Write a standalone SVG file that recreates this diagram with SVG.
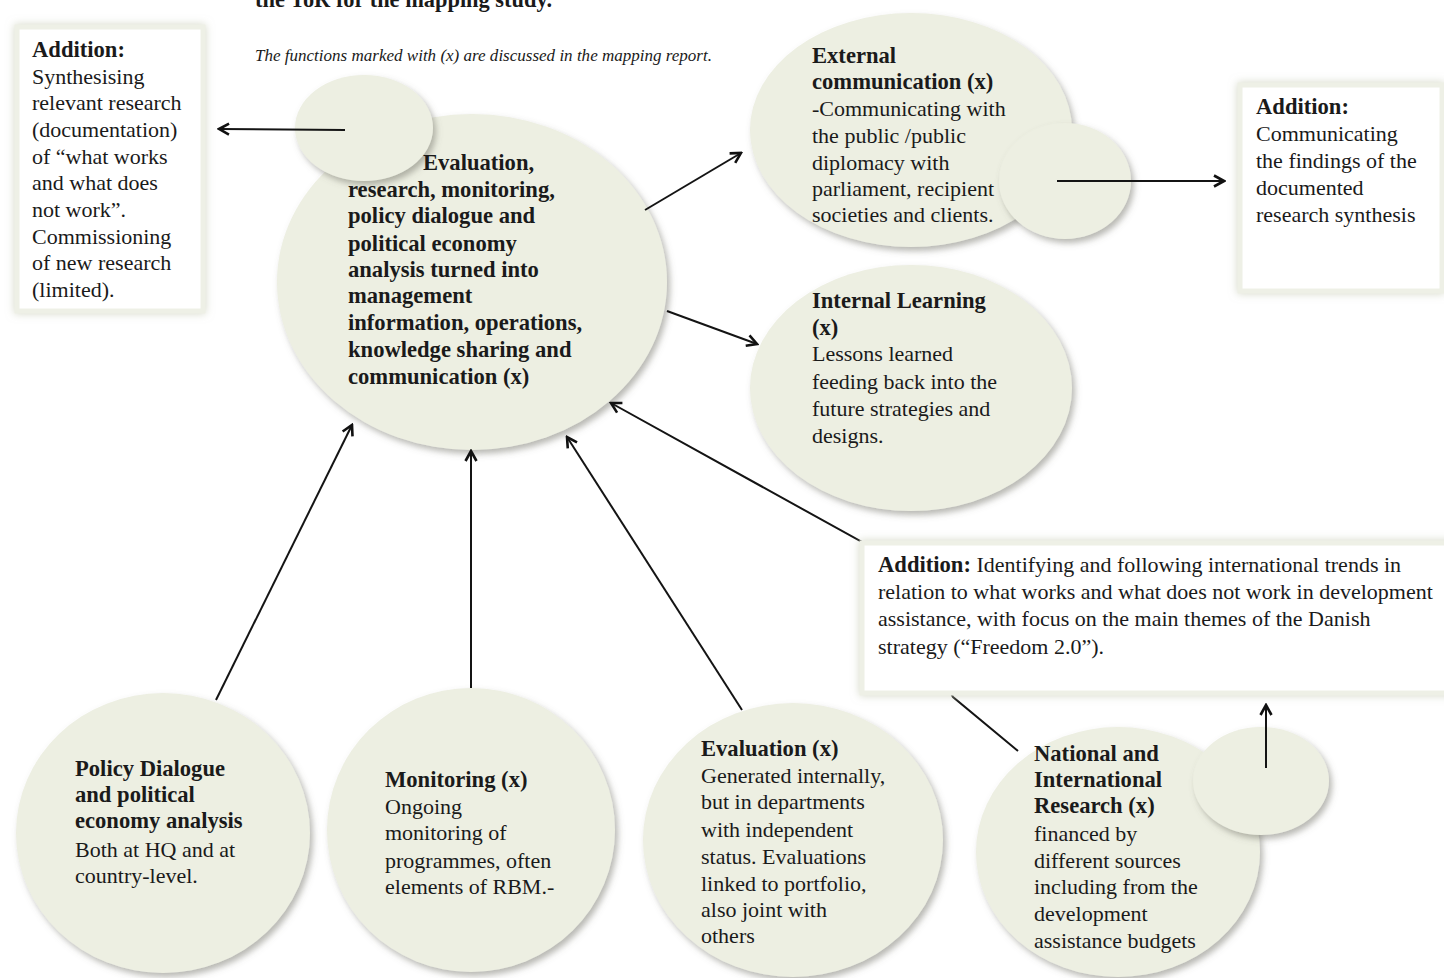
<svg xmlns="http://www.w3.org/2000/svg" width="1444" height="978" viewBox="0 0 1444 978">
  <defs>
    <filter id="shadow" x="-10%" y="-10%" width="125%" height="125%">
      <feDropShadow dx="3" dy="4" stdDeviation="3" flood-color="#6f7066" flood-opacity="0.5"/>
    </filter>
    <filter id="glow" x="-10%" y="-10%" width="120%" height="120%">
      <feDropShadow dx="0" dy="0" stdDeviation="4" flood-color="#c8cdb8" flood-opacity="0.8"/>
    </filter>
    <marker id="arrow" viewBox="0 0 14 14" markerWidth="14" markerHeight="14" refX="12" refY="7" orient="auto" markerUnits="userSpaceOnUse">
      <path d="M2,1.5 L12,7 L2,12.5" fill="none" stroke="#111" stroke-width="2.6" stroke-linejoin="miter"/>
    </marker>
  </defs>
  <style>
    .bubble { fill: #edefe2; filter: url(#shadow); }
    .card { fill: #ffffff; stroke: #eef0e6; stroke-width: 5; filter: url(#glow); }
    .t { font-family: "Liberation Serif", "Times New Roman", serif; font-size: 22px; fill: #1a1a1a; }
    .b { font-weight: bold; font-size: 22.6px; }
    .note { font-family: "Liberation Serif", "Times New Roman", serif; font-size: 17.5px; font-style: italic; fill: #1a1a1a; }
    .conn line, .conn polyline { stroke: #141414; stroke-width: 2; fill: none; }
    .arr { marker-end: url(#arrow); }
  </style>

  <rect width="1444" height="978" fill="#ffffff"/>

  <!-- heading fragment and note -->
  <text class="t b" x="255" y="7" textLength="297" lengthAdjust="spacingAndGlyphs">the ToR for the mapping study.</text>
  <text class="note" x="255" y="61" textLength="457" lengthAdjust="spacingAndGlyphs">The functions marked with (x) are discussed in the mapping report.</text>

  <!-- left addition card -->
  <g id="addition-synthesis">
    <rect class="card" x="17" y="27" width="186" height="284"/>
    <text class="t">
      <tspan class="b" x="32" y="57">Addition:</tspan>
      <tspan x="32" y="84">Synthesising</tspan>
      <tspan x="32" y="110">relevant research</tspan>
      <tspan x="32" y="137">(documentation)</tspan>
      <tspan x="32" y="164">of “what works</tspan>
      <tspan x="32" y="190">and what does</tspan>
      <tspan x="32" y="217">not work”.</tspan>
      <tspan x="32" y="244">Commissioning</tspan>
      <tspan x="32" y="270">of new research</tspan>
      <tspan x="32" y="297">(limited).</tspan>
    </text>
  </g>

  <!-- right addition card -->
  <g id="addition-communicating">
    <rect class="card" x="1240" y="85" width="202" height="206"/>
    <text class="t">
      <tspan class="b" x="1256" y="114">Addition:</tspan>
      <tspan x="1256" y="141">Communicating</tspan>
      <tspan x="1256" y="168">the findings of the</tspan>
      <tspan x="1256" y="195">documented</tspan>
      <tspan x="1256" y="222">research synthesis</tspan>
    </text>
  </g>

  <!-- central bubble -->
  <g id="central">
    <ellipse class="bubble" cx="472" cy="282" rx="195" ry="168"/>
    <ellipse class="bubble" cx="364" cy="128" rx="69" ry="53"/>
    <text class="t b">
      <tspan x="423" y="170">Evaluation,</tspan>
      <tspan x="348" y="197">research, monitoring,</tspan>
      <tspan x="348" y="223">policy dialogue and</tspan>
      <tspan x="348" y="251">political economy</tspan>
      <tspan x="348" y="277">analysis turned into</tspan>
      <tspan x="348" y="303">management</tspan>
      <tspan x="348" y="330">information, operations,</tspan>
      <tspan x="348" y="357">knowledge sharing and</tspan>
      <tspan x="348" y="384">communication (x)</tspan>
    </text>
  </g>

  <!-- external communication -->
  <g id="external-communication">
    <ellipse class="bubble" cx="911" cy="130" rx="161" ry="117"/>
    <ellipse class="bubble" cx="1065" cy="181" rx="66" ry="58"/>
    <text class="t">
      <tspan class="b" x="812" y="63">External</tspan>
      <tspan class="b" x="812" y="89">communication (x)</tspan>
      <tspan x="812" y="116">-Communicating with</tspan>
      <tspan x="812" y="143">the public /public</tspan>
      <tspan x="812" y="170">diplomacy with</tspan>
      <tspan x="812" y="196">parliament, recipient</tspan>
      <tspan x="812" y="222">societies and clients.</tspan>
    </text>
  </g>

  <!-- internal learning -->
  <g id="internal-learning">
    <ellipse class="bubble" cx="911" cy="388" rx="161" ry="123"/>
    <text class="t">
      <tspan class="b" x="812" y="308">Internal Learning</tspan>
      <tspan class="b" x="812" y="335">(x)</tspan>
      <tspan x="812" y="361">Lessons learned</tspan>
      <tspan x="812" y="389">feeding back into the</tspan>
      <tspan x="812" y="416">future strategies and</tspan>
      <tspan x="812" y="443">designs.</tspan>
    </text>
  </g>

  <!-- policy dialogue -->
  <g id="policy-dialogue">
    <ellipse class="bubble" cx="163" cy="833" rx="147" ry="140"/>
    <text class="t">
      <tspan class="b" x="75" y="776">Policy Dialogue</tspan>
      <tspan class="b" x="75" y="802">and political</tspan>
      <tspan class="b" x="75" y="828">economy analysis</tspan>
      <tspan x="75" y="857">Both at HQ and at</tspan>
      <tspan x="75" y="883">country-level.</tspan>
    </text>
  </g>

  <!-- monitoring -->
  <g id="monitoring">
    <ellipse class="bubble" cx="471" cy="830" rx="144" ry="142"/>
    <text class="t">
      <tspan class="b" x="385" y="787">Monitoring (x)</tspan>
      <tspan x="385" y="814">Ongoing</tspan>
      <tspan x="385" y="840">monitoring of</tspan>
      <tspan x="385" y="868">programmes, often</tspan>
      <tspan x="385" y="894">elements of RBM.-</tspan>
    </text>
  </g>

  <!-- evaluation -->
  <g id="evaluation">
    <ellipse class="bubble" cx="793" cy="840" rx="150" ry="137"/>
    <text class="t">
      <tspan class="b" x="701" y="756">Evaluation (x)</tspan>
      <tspan x="701" y="783">Generated internally,</tspan>
      <tspan x="701" y="809">but in departments</tspan>
      <tspan x="701" y="837">with independent</tspan>
      <tspan x="701" y="864">status. Evaluations</tspan>
      <tspan x="701" y="891">linked to portfolio,</tspan>
      <tspan x="701" y="917">also joint with</tspan>
      <tspan x="701" y="943">others</tspan>
    </text>
  </g>

  <!-- national and international research -->
  <g id="research">
    <ellipse class="bubble" cx="1118" cy="852" rx="142" ry="125"/>
    <ellipse class="bubble" cx="1261" cy="781" rx="68" ry="54"/>
    <text class="t">
      <tspan class="b" x="1034" y="761">National and</tspan>
      <tspan class="b" x="1034" y="787">International</tspan>
      <tspan class="b" x="1034" y="813">Research (x)</tspan>
      <tspan x="1034" y="841">financed by</tspan>
      <tspan x="1034" y="868">different sources</tspan>
      <tspan x="1034" y="894">including from the</tspan>
      <tspan x="1034" y="921">development</tspan>
      <tspan x="1034" y="948">assistance budgets</tspan>
    </text>
  </g>

  <!-- connectors -->
  <g id="connectors" class="conn">
    <line class="arr" x1="345" y1="130" x2="219" y2="129"/>
    <line class="arr" x1="1057" y1="181" x2="1224" y2="181"/>
    <line class="arr" x1="645" y1="210" x2="741" y2="153"/>
    <line class="arr" x1="667" y1="311" x2="757" y2="344"/>
    <line class="arr" x1="216" y1="700" x2="352" y2="425"/>
    <line class="arr" x1="471" y1="688" x2="471" y2="451"/>
    <line class="arr" x1="742" y1="710" x2="567" y2="437"/>
    <polyline class="arr" points="1018,751 953,697 905,610 880,552 611,403"/>
    <line class="arr" x1="1266" y1="768" x2="1266" y2="705"/>
  </g>

  <!-- lower addition card, laid over the research link -->
  <g id="addition-trends">
    <rect class="card" x="862" y="543" width="590" height="150"/>
    <text class="t">
      <tspan x="878" y="572"><tspan class="b">Addition:</tspan> Identifying and following international trends in</tspan>
      <tspan x="878" y="599">relation to what works and what does not work in development</tspan>
      <tspan x="878" y="626">assistance, with focus on the main themes of the Danish</tspan>
      <tspan x="878" y="654">strategy (“Freedom 2.0”).</tspan>
    </text>
  </g>
</svg>
